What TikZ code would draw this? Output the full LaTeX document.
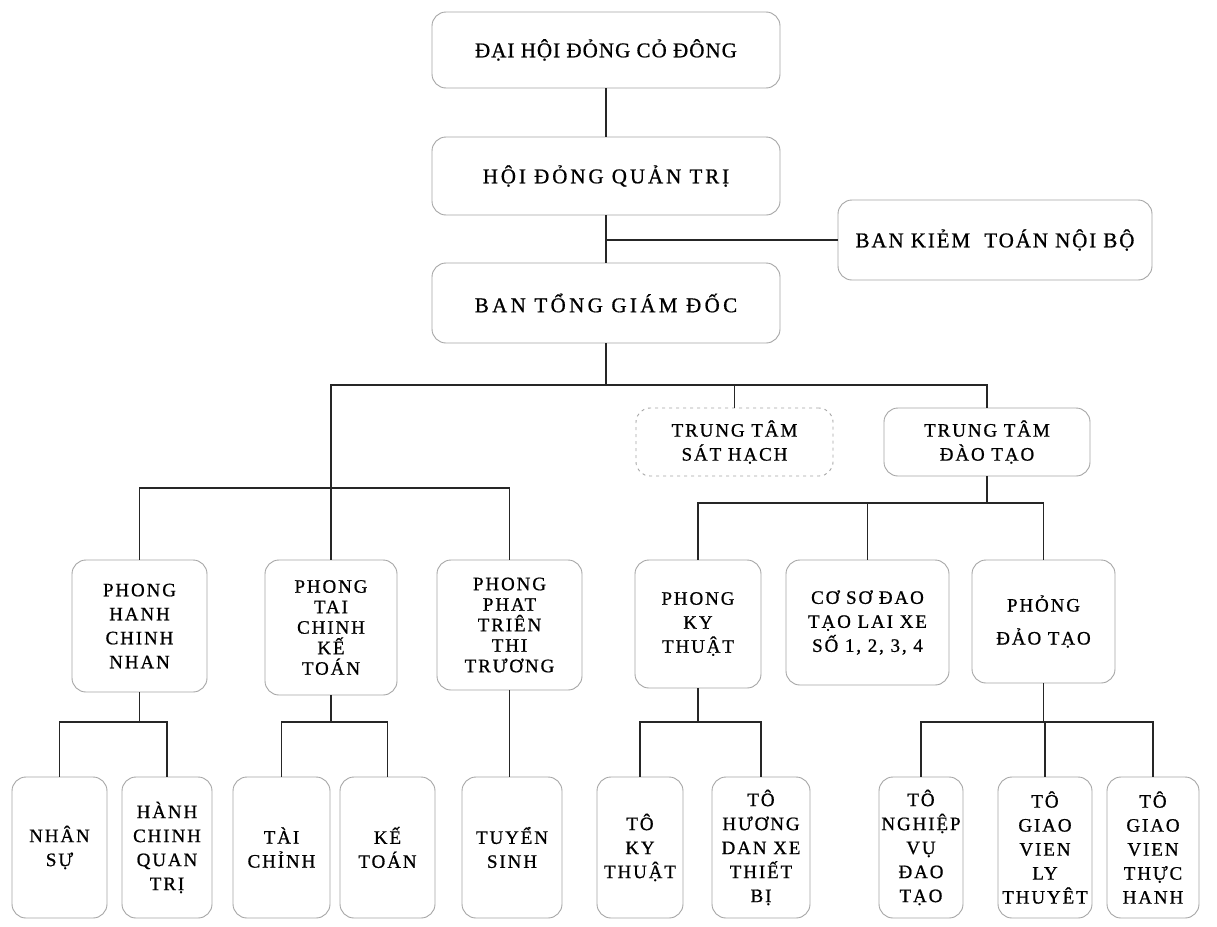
\documentclass[tikz,border=0pt]{standalone}
\usepackage{fontspec}
\setmainfont{Liberation Serif}[LetterSpace=10,FakeBold=0.8]
\newcommand{\lsp}[1]{\addfontfeature{LetterSpace=#1}}
\begin{document}
\begin{tikzpicture}[x=1pt,y=-1pt,
  box/.style={draw=black!35, line width=0.9pt, rounded corners=14pt, align=center, inner sep=2pt,
    font=\fontsize{19}{24}\selectfont},
  big/.style={font=\fontsize{21}{24}\selectfont},
  tight/.style={font=\fontsize{19}{20.5}\selectfont},
  dashbox/.style={box, dash pattern=on 3pt off 4pt},
  link/.style={line width=1.6pt, black!85}]
\useasboundingbox (0,0) rectangle (1217,926);
\fill[white] (0,0) rectangle (1217,926);
% top
\node[box, big, minimum width=348pt, minimum height=76pt] (dh) at (606,50) {\lsp{5}ĐẠI HỘI ĐỎNG CỎ ĐÔNG};
\node[box, big, minimum width=348pt, minimum height=78pt] (hd) at (606,176) {\lsp{14}HỘI ĐỎNG QUẢN TRỊ};
\node[box, big, minimum width=314pt, minimum height=80pt] (bkt) at (995,240) {\lsp{9}BAN KIẺM\ \ TOÁN NỘI BỘ};
\node[box, big, minimum width=348pt, minimum height=80pt] (btgd) at (606,303) {\lsp{16}BAN TỔNG GIÁM ĐỐC};
% centres
\node[dashbox, minimum width=197pt, minimum height=68pt] (ttsh) at (734.5,442) {TRUNG TÂM\\SÁT HẠCH};
\node[box, minimum width=206pt, minimum height=68pt] (ttdt) at (987,442) {TRUNG TÂM\\ĐÀO TẠO};
% middle row
\node[box, minimum width=135pt, minimum height=132pt] (phc) at (139.5,626) {PHONG\\HANH\\CHINH\\NHAN};
\node[box, tight, minimum width=132pt, minimum height=135pt] (ptc) at (331,627.5) {PHONG\\TAI\\CHINH\\KẾ\\TOÁN};
\node[box, tight, minimum width=145pt, minimum height=130pt] (ppt) at (509.5,625) {PHONG\\PHAT\\TRIÊN\\THI\\TRƯƠNG};
\node[box, minimum width=126pt, minimum height=128pt] (pkt) at (698,624) {PHONG\\KY\\THUẬT};
\node[box, minimum width=163pt, minimum height=125pt] (cso) at (867.5,622.5) {CƠ SƠ ĐAO\\TẠO LAI XE\\SỐ 1, 2, 3, 4};
\node[box, minimum width=143pt, minimum height=123pt] (pdt) at (1043.5,621.5) {PHỎNG\\[9pt]ĐẢO TẠO};
% bottom row
\node[box, minimum width=95pt, minimum height=141pt] (ns) at (59.5,847.5) {NHÂN\\SỰ};
\node[box, minimum width=90pt, minimum height=141pt] (hc) at (167,847.5) {HÀNH\\CHINH\\QUAN\\TRỊ};
\node[box, minimum width=97pt, minimum height=141pt] (tc) at (281.5,847.5) {TÀI\\CHỈNH};
\node[box, minimum width=95pt, minimum height=141pt] (kt) at (387.5,847.5) {KẾ\\TOÁN};
\node[box, minimum width=100pt, minimum height=141pt] (ts) at (512,847.5) {TUYỂN\\SINH};
\node[box, minimum width=86pt, minimum height=141pt] (tkt) at (640,847.5) {TÔ\\KY\\THUẬT};
\node[box, minimum width=98pt, minimum height=141pt] (thd) at (761,847.5) {TÔ\\HƯƠNG\\DAN XE\\THIẾT\\BỊ};
\node[box, minimum width=84pt, minimum height=141pt] (tnv) at (921,847.5) {TÔ\\NGHIỆP\\VỤ\\ĐAO\\TẠO};
\node[box, minimum width=94pt, minimum height=141pt] (tlt) at (1045,847.5) {TÔ\\GIAO\\VIEN\\LY\\THUYÊT};
\node[box, minimum width=92pt, minimum height=141pt] (tth) at (1153,847.5) {TÔ\\GIAO\\VIEN\\THỰC\\HANH};
% levels
\coordinate (yA) at (0,385);
\coordinate (yB) at (0,488);
\coordinate (yC) at (0,503);
\coordinate (yD) at (0,722);
% connectors
\draw[link] (dh.south) -- (hd.north);
\draw[link] (hd.south) -- (btgd.north);
\draw[link] (bkt.west) -- (bkt.west -| hd.south);
\draw[link] (btgd.south) -- (btgd.south |- yA);
\draw[link] (ptc.north) -- (ptc.north |- yA) -- (ttdt.north |- yA) -- (ttdt.north);
\draw[link] (ttsh.north) -- (ttsh.north |- yA);
\draw[link] (phc.north) -- (phc.north |- yB) -- (ppt.north |- yB) -- (ppt.north);
\draw[link] (ttdt.south) -- (ttdt.south |- yC);
\draw[link] (pkt.north) -- (pkt.north |- yC) -- (pdt.north |- yC) -- (pdt.north);
\draw[link] (cso.north) -- (cso.north |- yC);
% lower branches
\draw[link] (phc.south) -- (phc.south |- yD);
\draw[link] (ns.north) -- (ns.north |- yD) -- (hc.north |- yD) -- (hc.north);
\draw[link] (ptc.south) -- (ptc.south |- yD);
\draw[link] (tc.north) -- (tc.north |- yD) -- (kt.north |- yD) -- (kt.north);
\draw[link] (ppt.south) -- (ppt.south |- ts.north);
\draw[link] (pkt.south) -- (pkt.south |- yD);
\draw[link] (tkt.north) -- (tkt.north |- yD) -- (thd.north |- yD) -- (thd.north);
\draw[link] (pdt.south) -- (pdt.south |- yD);
\draw[link] (tnv.north) -- (tnv.north |- yD) -- (tth.north |- yD) -- (tth.north);
\draw[link] (tlt.north) -- (tlt.north |- yD);
\end{tikzpicture}
\end{document}
